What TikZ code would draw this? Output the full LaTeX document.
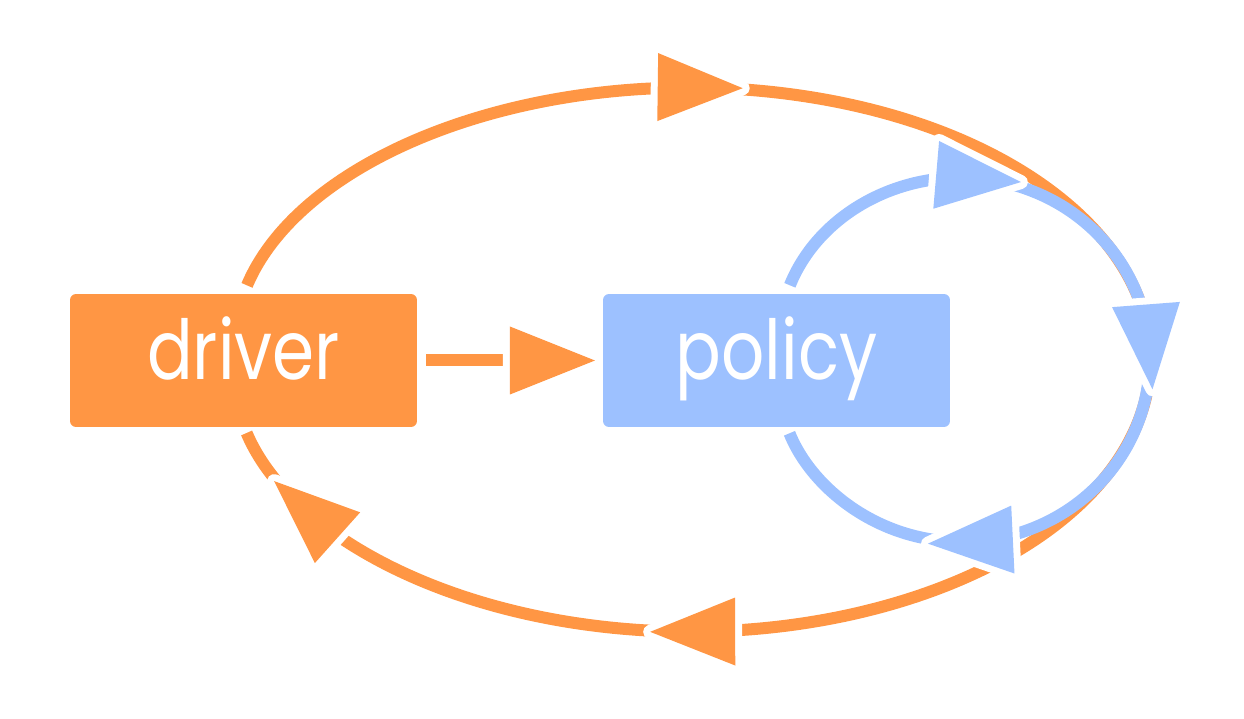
\documentclass[tikz,border=0pt]{standalone}
\usepackage{fontspec}
\setmainfont{Poppins}[FakeStretch=0.82]
\usetikzlibrary{decorations.markings}
\definecolor{cOrange}{RGB}{255,150,68}
\definecolor{cBlue}{RGB}{157,193,255}
\newcommand\tripath{(-42,-34) -- (43,0) -- (-42,34) -- cycle}
\newcommand\head[1]{\draw[white, line width=0.28cm, line join=round] \tripath; \fill[#1] \tripath;}
\tikzset{
  box/.style={rounded corners=0.12cm, minimum width=6.94cm, minimum height=2.66cm, inner sep=0pt,
    text=white, font=\fontsize{47}{56}\selectfont, text height=1.2cm, text depth=0.42cm},
  loop/.style={line width=0.24cm, shorten <=0.18cm, shorten >=0.16cm}
}
\begin{document}
\begin{tikzpicture}[x=0.02cm, y=0.02cm]
  \useasboundingbox (0,0) rectangle (1244,719);
  \node[box, fill=cOrange] (driver) at (243.5,358.5) {driver};
  \node[box, fill=cBlue] (policy) at (776.5,358.5) {policy};
  % outer loop
  \draw[loop, cOrange, postaction={decorate, decoration={markings,
      mark=at position .239 with {\head{cOrange}},
      mark=at position .764 with {\head{cOrange}},
      mark=at position .952 with {\head{cOrange}}}}]
    (driver.north) arc[start angle=165.96, end angle=-165.96, x radius=460.3, y radius=272];
  \draw[loop, cOrange, postaction={decorate, decoration={markings,
      mark=at position .726 with {\head{cOrange}}}}]
    (driver.east) -- (policy.west);
  % inner loop
  \draw[loop, cBlue, postaction={decorate, decoration={markings,
      mark=at position .233 with {\head{cBlue}},
      mark=at position .487 with {\head{cBlue}},
      mark=at position .774 with {\head{cBlue}}}}]
    ([xshift=0.2cm]policy.north) arc[start angle=158.7, end angle=-158.7, x radius=188, y radius=182];
\end{tikzpicture}
\end{document}
